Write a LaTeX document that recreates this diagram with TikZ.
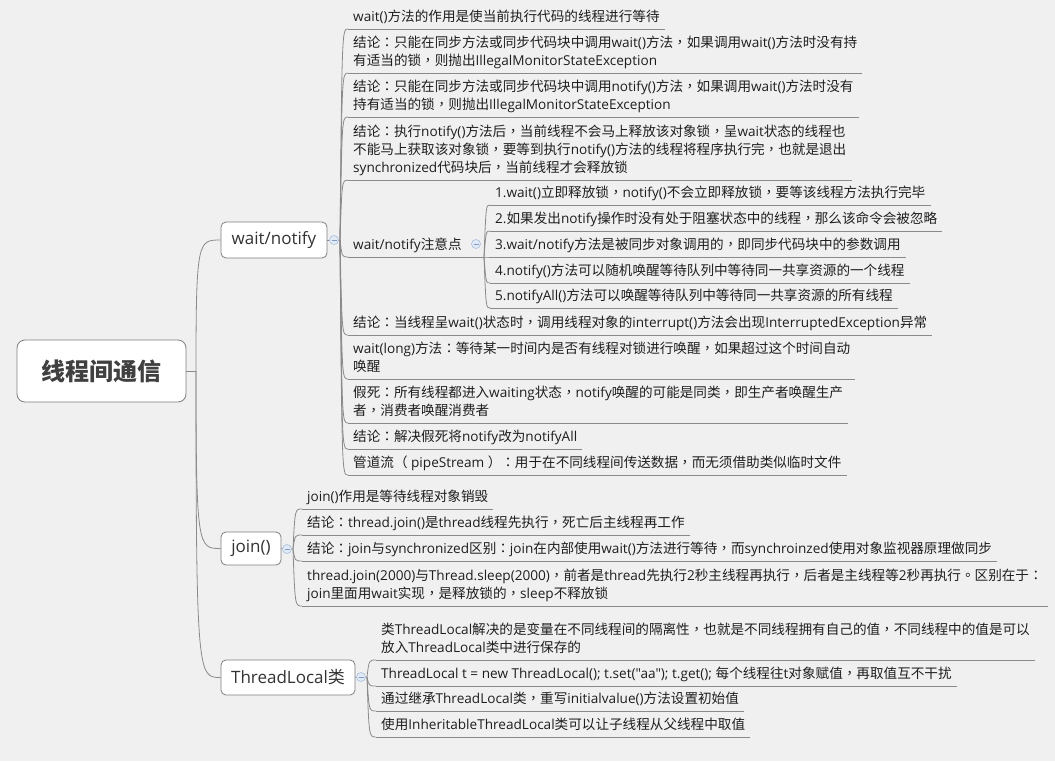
\documentclass[tikz,border=0pt]{standalone}
\usepackage{fontspec}
\newfontfamily\latfont{Open Sans}
\newfontfamily\cjkfont{Noto Sans CJK SC}
\newfontfamily\pctfont{Noto Sans CJK TC}
\XeTeXinterchartokenstate=1
\newXeTeXintercharclass\CJKcls
\newXeTeXintercharclass\PCTcls
\makeatletter
\count@="3000 \loop \XeTeXcharclass\count@=\CJKcls \ifnum\count@<"303F \advance\count@ 1 \repeat
\count@="4E00 \loop \XeTeXcharclass\count@=\CJKcls \ifnum\count@<"9FFF \advance\count@ 1 \repeat
\count@="FF00 \loop \XeTeXcharclass\count@=\CJKcls \ifnum\count@<"FFEF \advance\count@ 1 \repeat
\makeatother
\XeTeXcharclass"FF0C=\PCTcls
\XeTeXcharclass"FF1A=\PCTcls
\XeTeXcharclass"FF1B=\PCTcls
\XeTeXcharclass"3001=\PCTcls
\XeTeXcharclass"3002=\PCTcls
\XeTeXinterchartoks 0 \CJKcls = {\cjkfont}
\XeTeXinterchartoks 4095 \CJKcls = {\cjkfont}
\XeTeXinterchartoks \CJKcls 0 = {\latfont}
\XeTeXinterchartoks \CJKcls 4095 = {\latfont}
\XeTeXinterchartoks 0 \PCTcls = {\pctfont}
\XeTeXinterchartoks 4095 \PCTcls = {\pctfont}
\XeTeXinterchartoks \PCTcls 0 = {\latfont}
\XeTeXinterchartoks \PCTcls 4095 = {\latfont}
\XeTeXinterchartoks \CJKcls \PCTcls = {\pctfont}
\XeTeXinterchartoks \PCTcls \CJKcls = {\cjkfont}
\usetikzlibrary{calc}
\definecolor{bgc}{HTML}{F0F0F0}
\definecolor{linec}{HTML}{8A8A8A}
\definecolor{nodeb}{HTML}{7F7F7F}
\definecolor{leafc}{HTML}{1E1E1E}
\definecolor{branchc}{HTML}{333333}
\definecolor{titlec}{HTML}{404040}
\definecolor{iconf}{HTML}{E2EAF5}
\definecolor{iconb}{HTML}{A8BEDC}
\definecolor{iconm}{HTML}{7F9CC8}
\begin{document}
\begin{tikzpicture}[x=1pt,y=-1pt,
  leaf/.style={anchor=south west, inner xsep=5pt, inner ysep=0pt, text depth=7pt, align=left, font=\latfont\fontsize{13.6}{18}\selectfont, text=leafc},
  branch/.style={draw=nodeb, fill=white, rounded corners=5pt, line width=0.8pt, inner sep=0pt, font=\latfont\fontsize{17}{20}\selectfont, text=branchc},
  root/.style={draw=nodeb, fill=white, rounded corners=8pt, line width=0.8pt, inner sep=0pt, minimum width=169pt, minimum height=62pt, font=\cjkfont\fontsize{24}{28}\selectfont\bfseries, text=titlec},
  conn/.style={draw=linec, line width=0.8pt},
  uline/.style={draw=linec, line width=0.8pt},
  icon/.style={circle, draw=iconb, fill=iconf, minimum size=9pt, inner sep=0pt, line width=0.6pt,
    path picture={\draw[iconm, line width=0.8pt] ([xshift=-2.5pt]path picture bounding box.center) -- ([xshift=2.5pt]path picture bounding box.center);}}
]
\fill[bgc] (0,0) rectangle (1055,761);
\useasboundingbox (0,0) rectangle (1055,761);

% ---------- nodes ----------
\node[root] (C) at (101.5,371) {线程间通信};
\node[branch, minimum width=106pt, minimum height=36pt] (W) at (274,240) {wait/notify};
\node[branch, minimum width=60pt, minimum height=33pt] (J) at (251,548.5) {join()};
\node[branch, minimum width=134pt, minimum height=35pt] (T) at (288,677.5) {ThreadLocal类};

\coordinate (cS) at (196,371);
\coordinate (wS) at (340,240);
\coordinate (jS) at (293,549);
\coordinate (tS) at (367,677);
\coordinate (nS) at (484,257);

% wait/notify leaves
\node[leaf] (w1) at (348,29) {wait()方法的作用是使当前执行代码的线程进行等待};
\node[leaf] (w2) at (348,73) {结论：只能在同步方法或同步代码块中调用wait()方法，如果调用wait()方法时没有持\\有适当的锁，则抛出IllegalMonitorStateException};
\node[leaf] (w3) at (348,117) {结论：只能在同步方法或同步代码块中调用notify()方法，如果调用wait()方法时没有\\持有适当的锁，则抛出IllegalMonitorStateException};
\node[leaf] (w4) at (348,180) {结论：执行notify()方法后，当前线程不会马上释放该对象锁，呈wait状态的线程也\\不能马上获取该对象锁，要等到执行notify()方法的线程将程序执行完，也就是退出\\synchronized代码块后，当前线程才会释放锁};
\node[leaf] (w5) at (348,257) {wait/notify注意点};
\node[leaf] (w6) at (348,335) {结论：当线程呈wait()状态时，调用线程对象的interrupt()方法会出现InterruptedException异常};
\node[leaf] (w7) at (348,379) {wait(long)方法：等待某一时间内是否有线程对锁进行唤醒，如果超过这个时间自动\\唤醒};
\node[leaf] (w8) at (348,423) {假死：所有线程都进入waiting状态，notify唤醒的可能是同类，即生产者唤醒生产\\者，消费者唤醒消费者};
\node[leaf] (w9) at (348,449) {结论：解决假死将notify改为notifyAll};
\node[leaf] (w10) at (348,475) {管道流（ pipeStream ）：用于在不同线程间传送数据，而无须借助类似临时文件};

% 注意点 sub leaves
\node[leaf] (n1) at (490,205) {1.wait()立即释放锁，notify()不会立即释放锁，要等该线程方法执行完毕};
\node[leaf] (n2) at (490,231) {2.如果发出notify操作时没有处于阻塞状态中的线程，那么该命令会被忽略};
\node[leaf] (n3) at (490,257) {3.wait/notify方法是被同步对象调用的，即同步代码块中的参数调用};
\node[leaf] (n4) at (490,283) {4.notify()方法可以随机唤醒等待队列中等待同一共享资源的一个线程};
\node[leaf] (n5) at (490,308) {5.notifyAll()方法可以唤醒等待队列中等待同一共享资源的所有线程};

% join leaves
\node[leaf] (j1) at (302,509) {join()作用是等待线程对象销毁};
\node[leaf] (j2) at (302,535) {结论：thread.join()是thread线程先执行，死亡后主线程再工作};
\node[leaf] (j3) at (302,561) {结论：join与synchronized区别：join在内部使用wait()方法进行等待，而synchroinzed使用对象监视器原理做同步};
\node[leaf] (j4) at (302,606) {thread.join(2000)与Thread.sleep(2000)，前者是thread先执行2秒主线程再执行，后者是主线程等2秒再执行。区别在于：\\join里面用wait实现，是释放锁的，sleep不释放锁};

% ThreadLocal leaves
\node[leaf] (t1) at (376,660) {类ThreadLocal解决的是变量在不同线程间的隔离性，也就是不同线程拥有自己的值，不同线程中的值是可以\\放入ThreadLocal类中进行保存的};
\node[leaf] (t2) at (376,686) {ThreadLocal t = new ThreadLocal(); t.set("aa"); t.get(); 每个线程往t对象赋值，再取值互不干扰};
\node[leaf] (t3) at (376,711) {通过继承ThreadLocal类，重写initialvalue()方法设置初始值};
\node[leaf] (t4) at (376,737) {使用InheritableThreadLocal类可以让子线程从父线程中取值};

% ---------- underlines ----------
\foreach \n in {w1,w2,w3,w4,w6,w7,w8,w9,w10,n1,n2,n3,n4,n5,j1,j2,j3,j4,t1,t2,t3,t4}
  \draw[uline] (\n.south west) -- (\n.south east);
\draw[uline] (w5.south west) -- (nS);

% ---------- connectors ----------
\draw[conn] (C.east) -- (cS);
\foreach \n in {W,J,T}
  \draw[conn] (cS) .. controls (cS |- \n.west) and ([xshift=2pt]cS |- \n.west) .. (\n.west);
\draw[conn] (W.east) -- (wS);
\foreach \n in {w1,w2,w3,w4,w5,w6,w7,w8,w9,w10}
  \draw[conn] (wS) .. controls ([xshift=2pt]wS |- \n.south west) .. (\n.south west);
\foreach \n in {n1,n2,n3,n4,n5}
  \draw[conn] (nS) .. controls ([xshift=2pt]nS |- \n.south west) .. (\n.south west);
\draw[conn] (J.east) -- (jS);
\foreach \n in {j1,j2,j3,j4}
  \draw[conn] (jS) .. controls ([xshift=2pt]jS |- \n.south west) .. (\n.south west);
\draw[conn] (T.east) -- (tS);
\foreach \n in {t1,t2,t3,t4}
  \draw[conn] (tS) .. controls ([xshift=2pt]tS |- \n.south west) .. (\n.south west);

% ---------- collapse icons ----------
\node[icon] (iW) at (334,240) {};
\node[icon] (iJ) at (287,549) {};
\node[icon] (iT) at (361,677) {};
\node[icon] (iN) at (476,244) {};
\end{tikzpicture}
\end{document}
